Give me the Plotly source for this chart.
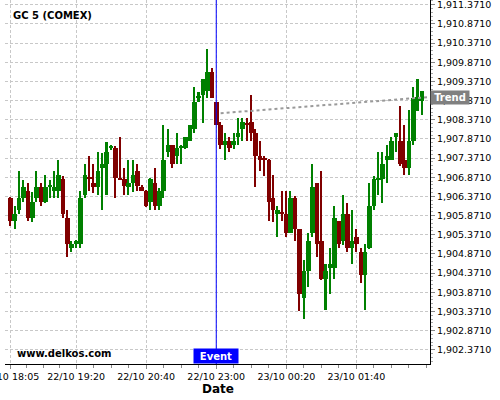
import plotly.graph_objects as go

# ---- data ----
opens = [1906.33, 1905.74, 1906.02, 1906.33, 1906.51, 1905.82, 1906.33, 1906.62, 1906.22, 1906.62,
         1906.51, 1906.51, 1906.82, 1905.81, 1905.02, 1905.13, 1905.13, 1906.41, 1906.85, 1906.72,
         1906.62, 1907.12, 1907.22, 1907.65, 1907.63, 1906.86, 1906.82, 1906.62, 1906.72, 1907.03,
         1906.62, 1906.52, 1906.22, 1906.71, 1906.13, 1906.52, 1907.53, 1907.70, 1907.42, 1907.65,
         1907.63, 1907.82, 1908.14, 1908.95, 1909.02, 1909.13, 1909.62, 1908.83, 1908.24, 1907.72,
         1907.82, 1907.72, 1907.92, 1908.13, 1908.26, 1908.31, 1908.03, 1907.42, 1907.33, 1907.33,
         1906.34, 1905.92, 1905.93, 1905.92, 1905.41, 1906.32, 1905.52, 1903.73, 1904.42, 1905.41,
         1906.72, 1905.21, 1904.22, 1904.51, 1904.51, 1905.72, 1905.21, 1905.91, 1905.03, 1905.31,
         1904.92, 1904.33, 1905.03, 1906.12, 1906.82, 1906.82, 1907.32, 1907.32, 1907.92, 1907.82,
         1907.32, 1907.12, 1907.82, 1908.86, 1908.86]
highs = [1906.36, 1906.11, 1907.03, 1906.81, 1906.71, 1906.49, 1907.03, 1906.71, 1906.93, 1906.81,
         1907.03, 1907.31, 1906.90, 1906.02, 1905.21, 1905.23, 1906.51, 1907.22, 1907.42, 1907.22,
         1907.52, 1907.50, 1907.80, 1907.70, 1907.69, 1907.91, 1907.10, 1907.31, 1907.31, 1907.21,
         1906.67, 1906.54, 1906.84, 1907.10, 1906.60, 1908.23, 1908.12, 1907.71, 1908.02, 1907.70,
         1907.91, 1908.23, 1909.22, 1909.10, 1909.43, 1910.21, 1909.72, 1908.84, 1908.30, 1908.02,
         1907.91, 1908.02, 1908.41, 1908.41, 1908.41, 1909.01, 1908.12, 1907.82, 1907.42, 1907.35,
         1906.93, 1906.12, 1906.52, 1906.52, 1906.52, 1906.38, 1905.53, 1904.71, 1905.41, 1907.22,
         1906.73, 1907.03, 1904.61, 1905.02, 1906.11, 1905.74, 1906.41, 1906.21, 1906.01, 1905.51,
         1905.02, 1905.12, 1906.71, 1906.90, 1907.52, 1907.52, 1907.72, 1907.91, 1908.02, 1908.73,
         1908.23, 1908.62, 1909.22, 1909.43, 1909.13]
lows = [1905.61, 1905.51, 1905.91, 1906.23, 1905.74, 1905.71, 1906.23, 1906.11, 1906.20, 1906.33,
        1906.32, 1906.32, 1905.80, 1904.80, 1904.92, 1905.02, 1905.02, 1906.32, 1906.50, 1906.47,
        1906.41, 1906.02, 1906.41, 1907.58, 1906.32, 1906.81, 1906.40, 1906.40, 1906.49, 1906.52,
        1906.51, 1906.10, 1906.02, 1906.02, 1906.02, 1906.32, 1907.41, 1907.11, 1907.22, 1907.22,
        1907.61, 1907.82, 1908.02, 1908.83, 1908.29, 1908.93, 1908.93, 1908.23, 1907.61, 1907.31,
        1907.52, 1907.61, 1907.72, 1907.82, 1907.82, 1907.82, 1906.61, 1907.03, 1906.90, 1905.74,
        1905.71, 1905.31, 1905.72, 1905.31, 1905.41, 1905.21, 1903.38, 1903.18, 1904.01, 1905.31,
        1904.80, 1904.20, 1903.41, 1903.82, 1904.22, 1905.02, 1905.10, 1904.92, 1904.61, 1904.92,
        1904.11, 1903.41, 1905.01, 1906.01, 1906.41, 1906.21, 1906.71, 1907.32, 1907.52, 1907.16,
        1906.92, 1906.92, 1907.71, 1908.61, 1908.50]
closes = [1905.74, 1905.91, 1906.33, 1906.62, 1905.82, 1906.22, 1906.62, 1906.22, 1906.62, 1906.63,
          1906.62, 1906.93, 1905.92, 1905.13, 1905.13, 1905.20, 1906.33, 1906.93, 1906.83, 1906.62,
          1907.03, 1907.22, 1907.52, 1907.66, 1906.84, 1906.82, 1906.63, 1906.72, 1906.93, 1906.63,
          1906.52, 1906.13, 1906.82, 1906.13, 1906.52, 1907.32, 1907.70, 1907.22, 1907.63, 1907.66,
          1907.91, 1908.23, 1908.83, 1908.96, 1909.43, 1909.62, 1908.94, 1908.24, 1907.72, 1907.82,
          1907.64, 1907.82, 1908.02, 1908.31, 1908.25, 1908.02, 1907.43, 1907.33, 1907.32, 1906.23,
          1906.02, 1906.02, 1905.92, 1905.41, 1906.32, 1905.52, 1903.83, 1904.42, 1905.21, 1906.62,
          1905.14, 1904.22, 1904.42, 1904.61, 1905.81, 1905.14, 1905.91, 1905.03, 1905.21, 1905.14,
          1904.33, 1904.92, 1906.12, 1906.82, 1906.85, 1907.22, 1907.42, 1907.82, 1908.02, 1907.22,
          1907.12, 1907.82, 1908.94, 1908.97, 1909.12]

tick_index = [0, 15, 31, 47, 63, 79]
tick_labels = ["22/10 18:05", "22/10 19:20", "22/10 20:40", "22/10 23:00", "23/10 00:20", "23/10 01:40"]

price_ticks = [1902.371, 1902.871, 1903.371, 1903.871, 1904.371, 1904.871, 1905.371, 1905.871,
               1906.371, 1906.871, 1907.371, 1907.871, 1908.371, 1908.871, 1909.371, 1909.871,
               1910.371, 1910.871, 1911.371]
price_labels = ["{:,.4f}".format(v) for v in price_ticks]

event_index = 47
trend_x = [48, 95.3]
trend_y = [1908.54, 1908.96]

# ---- build ----
idx = list(range(len(opens)))
up = "#008000"
down = "#800000"
colors = [up if c >= o else down for o, c in zip(opens, closes)]
body_base = [min(o, c) for o, c in zip(opens, closes)]
body_h = [max(abs(c - o), 0.03) for o, c in zip(opens, closes)]
wick_base = lows
wick_h = [h - l for h, l in zip(highs, lows)]

fig = go.Figure()
fig.add_trace(go.Bar(x=idx, y=wick_h, base=wick_base, width=0.35,
                     marker=dict(color=colors, line=dict(width=0)), showlegend=False, hoverinfo="skip"))
fig.add_trace(go.Bar(x=idx, y=body_h, base=body_base, width=1.05,
                     marker=dict(color=colors, line=dict(width=0)), showlegend=False))
fig.add_trace(go.Scatter(x=trend_x, y=trend_y, mode="lines",
                         line=dict(color="#9a9a9a", width=2, dash="dot"), showlegend=False, hoverinfo="skip"))

# minor tick positions (quarters between labelled ticks)
minor_vals = []
for a, b in zip(tick_index[:-1], tick_index[1:]):
    for k in (1, 2, 3):
        minor_vals.append(a + (b - a) * k / 4)
minor_vals += [tick_index[-1] + 4 * k for k in (1, 2, 3, 4)]

grid = dict(showgrid=True, gridcolor="#c8c8c8", griddash="3px,2px", gridwidth=1)
fig.update_layout(
    width=500, height=400,
    margin=dict(l=5, r=70, t=0, b=36, autoexpand=False),
    paper_bgcolor="white", plot_bgcolor="white",
    barmode="overlay", bargap=0,
    font=dict(family="DejaVu Sans", size=10, color="black"),
    xaxis=dict(range=[-1.23, 95.8], tickmode="array", tickvals=tick_index, ticktext=tick_labels,
               ticks="outside", ticklen=4, tickcolor="#888888", tickfont=dict(size=9.5),
               ticklabeloverflow="allow",
               showline=True, linecolor="black", linewidth=1, zeroline=False, automargin=False,
               minor=dict(tickmode="array", tickvals=minor_vals, ticks="outside", ticklen=3,
                          tickcolor="#888888", showgrid=False),
               **grid),
    yaxis=dict(range=[1901.998, 1911.494], side="right", tickmode="array", tickvals=price_ticks,
               ticktext=price_labels, ticks="outside", ticklen=4, tickcolor="#888888",
               tickfont=dict(size=9.5), ticklabeloverflow="allow",
               showline=True, linecolor="black", linewidth=1, zeroline=False,
               automargin=False,
               minor=dict(dtick=0.1, tick0=1902.371, ticks="outside", ticklen=2, tickcolor="#aaaaaa",
                          showgrid=False),
               **grid),
    shapes=[dict(type="line", xref="x", yref="paper", x0=event_index, x1=event_index, y0=0, y1=1,
                 line=dict(color="#0000ff", width=1))],
    annotations=[
        dict(text="<b>GC 5 (COMEX)</b>", xref="paper", yref="paper", x=0.0134, y=0.957,
             xanchor="left", yanchor="middle", showarrow=False, font=dict(size=10, color="black")),
        dict(text="<b>www.delkos.com</b>", xref="paper", yref="paper", x=0.0235, y=0.0275,
             xanchor="left", yanchor="middle", showarrow=False, font=dict(size=10, color="black")),
        dict(text="<b>Event</b>", xref="x", yref="paper", x=event_index, y=0, xanchor="center",
             yanchor="bottom", showarrow=False, bgcolor="#0000ff", width=42, height=12, borderpad=1,
             font=dict(size=10, color="white")),
        dict(text="<b>Trend</b>", xref="paper", yref="y", x=1.0, y=trend_y[-1], xanchor="left",
             yanchor="middle", showarrow=False, bgcolor="#808080", width=36, height=11, borderpad=1,
             font=dict(size=10, color="white")),
        dict(text="<b>Date</b>", xref="paper", yref="paper", x=0.5, y=-0.0687, xanchor="center",
             yanchor="middle", showarrow=False, font=dict(size=12, color="black")),
    ],
)

fig.write_html("out.html", config={"displayModeBar": False},
               post_script="document.body.style.margin='0';document.body.style.overflow='hidden';")
